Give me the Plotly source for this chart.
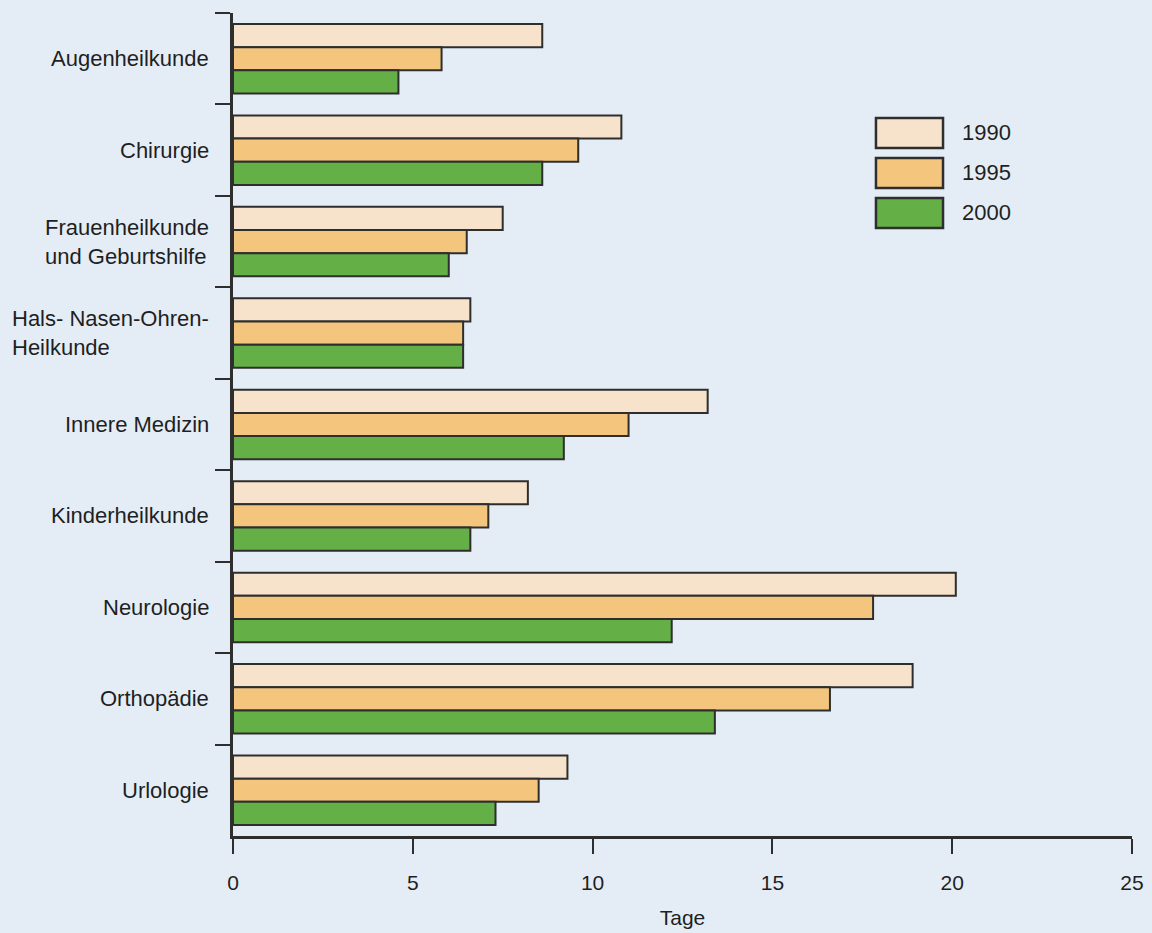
import plotly.graph_objects as go

categories = ["Augenheilkunde", "Chirurgie", "Frauenheilkunde<br>und Geburtshilfe",
              "Hals- Nasen-Ohren-<br>Heilkunde", "Innere Medizin", "Kinderheilkunde",
              "Neurologie", "Orthopädie", "Urlologie"]
years = ["1990", "1995", "2000"]
v1990 = [8.6, 10.8, 7.5, 6.6, 13.2, 8.2, 20.1, 18.9, 9.3]
v1995 = [5.8, 9.6, 6.5, 6.4, 11.0, 7.1, 17.8, 16.6, 8.5]
v2000 = [4.6, 8.6, 6.0, 6.4, 9.2, 6.6, 12.2, 13.4, 7.3]
series = [v1990, v1995, v2000]
colors = ["#f7e3cc", "#f4c67d", "#64af46"]
x_ticks = [0, 5, 10, 15, 20, 25]

BG = "#e4edf6"
DARK = "#2e2e2e"
TXT = "#1f1f1f"
FONT = "Liberation Sans, Arial, sans-serif"

fig = go.Figure()
for name, vals, col in zip(years, series, colors):
    fig.add_trace(go.Bar(
        y=categories, x=vals, name=name, orientation="h",
        marker=dict(color=col, line=dict(color=DARK, width=2)),
        showlegend=False,
    ))

# category labels (left-aligned multi-line blocks, right-anchored)
annotations = []
for c in categories:
    annotations.append(dict(
        x=0, xref="paper", y=c, yref="y", text=c, showarrow=False,
        xanchor="right", yanchor="middle", align="left", xshift=-22,
        font=dict(family=FONT, size=22, color=TXT),
    ))

# manual legend
shapes = []
box_x0, box_x1 = 0.7152, 0.7898
box_rows = [(0.8360, 0.8724, 0.8542), (0.7874, 0.8238, 0.8056), (0.7388, 0.7752, 0.757)]
for (y0, y1, yc), col, name in zip(box_rows, colors, years):
    shapes.append(dict(type="rect", xref="paper", yref="paper",
                       x0=box_x0, x1=box_x1, y0=y0, y1=y1,
                       fillcolor=col, line=dict(color=DARK, width=2.5)))
    annotations.append(dict(x=0.8087, xref="paper", y=yc, yref="paper", text=name,
                            showarrow=False, xanchor="left", yanchor="middle",
                            font=dict(family=FONT, size=22, color=TXT)))

fig.update_layout(
    width=1152, height=933,
    margin=dict(l=233, r=20, t=13, b=97),
    paper_bgcolor=BG, plot_bgcolor=BG,
    barmode="group", bargap=0.24, bargroupgap=0,
    font=dict(family=FONT, size=21, color=TXT),
    annotations=annotations, shapes=shapes,
    xaxis=dict(range=[0, 25], tickvals=x_ticks, ticktext=[str(t) for t in x_ticks],
               ticks="outside", ticklen=15, tickwidth=2, tickcolor=DARK,
               showline=True, linewidth=2.5, linecolor=DARK, automargin=False,
               showgrid=False, zeroline=False, ticklabelstandoff=11,
               tickfont=dict(size=21),
               title=dict(text="Tage", font=dict(size=21), standoff=18)),
    yaxis=dict(type="category", categoryorder="array", categoryarray=categories,
               autorange="reversed", ticks="outside", tickson="boundaries",
               ticklen=15, tickwidth=2, tickcolor=DARK, automargin=False,
               showline=True, linewidth=2.5, linecolor=DARK,
               showgrid=False, zeroline=False, showticklabels=False),
)

fig.write_html("out.html")
